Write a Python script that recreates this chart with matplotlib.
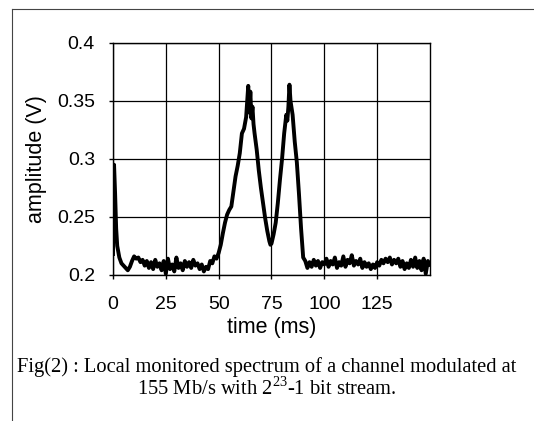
import matplotlib
matplotlib.use('Agg')
import matplotlib.pyplot as plt
from matplotlib.lines import Line2D

plt.rcParams['font.family'] = ['Liberation Sans', 'DejaVu Sans']
plt.rcParams['mathtext.fontset'] = 'custom'
plt.rcParams['mathtext.rm'] = 'Liberation Serif'

# trace (time in ms, amplitude in V)
time_ms = [0, 0.5, 1, 1.5, 2, 3, 4, 5, 6, 7, 8, 9, 10, 11, 12, 13, 14, 15, 16, 17, 18, 19,
           20, 21, 22, 23, 24, 25, 26, 27, 28, 29, 30, 31, 32, 33, 34, 35, 36, 37, 38, 39,
           40, 41, 42, 43, 44, 45, 46, 47, 48, 49, 50, 51, 52, 53, 54, 55, 56, 57, 58, 59,
           60, 61, 62, 63, 63.5, 64, 64.5, 65, 65.5, 66, 66.5, 67, 68, 69, 70, 71, 72, 73,
           74, 74.5, 75, 76, 77, 78, 79, 80, 81, 82, 82.5, 83, 83.5, 84, 85, 86, 87, 88,
           89, 90, 91, 92,
           93, 94, 95, 96, 97, 98, 99, 100, 101, 102, 103, 104, 105, 106, 107, 108, 109,
           110, 111, 112, 113, 114, 115, 116, 117, 118, 119, 120, 121, 122, 123, 124, 125,
           126, 127, 128, 129, 130, 131, 132, 133, 134, 135, 136, 137, 138, 139, 140, 141,
           142, 143, 144, 145, 146, 147, 148, 149, 150]
amplitude = [0.218, 0.295, 0.27, 0.24, 0.225, 0.215, 0.21, 0.208, 0.206, 0.204, 0.207, 0.212,
             0.216, 0.214, 0.215, 0.211, 0.213, 0.208, 0.212, 0.206, 0.211, 0.205,
             0.213, 0.207, 0.21, 0.204, 0.212, 0.201, 0.214, 0.205, 0.209, 0.203, 0.215,
             0.206, 0.21, 0.204, 0.212, 0.207, 0.211, 0.206, 0.213, 0.208,
             0.21, 0.205, 0.209, 0.203, 0.207, 0.205, 0.212, 0.21, 0.216, 0.214, 0.219,
             0.226, 0.236, 0.245, 0.252, 0.256, 0.259, 0.272, 0.285, 0.294,
             0.305, 0.322, 0.326, 0.336, 0.35, 0.363, 0.34, 0.358, 0.335, 0.345, 0.33,
             0.322, 0.308, 0.29, 0.275, 0.262, 0.249, 0.238,
             0.229, 0.226, 0.227, 0.235, 0.245, 0.262, 0.282, 0.3, 0.322, 0.338, 0.333,
             0.345, 0.364, 0.35, 0.338, 0.315, 0.297, 0.27,
             0.24, 0.215, 0.212, 0.206,
             0.211, 0.207, 0.213, 0.208, 0.212, 0.206, 0.211, 0.209, 0.214, 0.207, 0.212,
             0.209, 0.215, 0.206, 0.211, 0.208, 0.216,
             0.207, 0.213, 0.21, 0.217, 0.208, 0.212, 0.209, 0.214, 0.206, 0.211, 0.207,
             0.21, 0.205, 0.209, 0.206, 0.211,
             0.208, 0.213, 0.21, 0.214, 0.211, 0.215, 0.209, 0.213, 0.21, 0.214, 0.207,
             0.212, 0.205, 0.21, 0.206, 0.213,
             0.207, 0.215, 0.206, 0.212, 0.204, 0.214, 0.201, 0.212, 0.209]

x_ticks = [0, 25, 50, 75, 100, 125]
y_ticks = [0.2, 0.25, 0.3, 0.35, 0.4]
y_labels = ['0.2', '0.25', '0.3', '0.35', '0.4']

fig = plt.figure(figsize=(5.34, 4.21), dpi=100)
ax = fig.add_axes([0.2116, 0.347, 0.5936, 0.551])
ax.plot(time_ms, amplitude, color='black', lw=2.8, solid_joinstyle='round')
ax.set_xlim(0, 150)
ax.set_ylim(0.2, 0.4)
ax.set_xticks(x_ticks)
ax.set_yticks(y_ticks)
ax.set_yticklabels(y_labels)
ax.tick_params(labelsize=14, length=3, width=1, colors='black')
ax.tick_params(axis='x', pad=12)
ax.tick_params(axis='y', pad=10)
ax.grid(True, color='black', lw=0.9)
ax.set_axisbelow(True)
for s in ax.spines.values():
    s.set_linewidth(1)
ax.set_xlabel('time (ms)', fontsize=15.5, labelpad=3)
ax.set_ylabel('amplitude (V)', fontsize=15.5, labelpad=7)

# caption
fig.text(0.5, 0.128, 'Fig(2) : Local monitored spectrum of a channel modulated at',
         ha='center', va='center', fontsize=14.8, family='Liberation Serif')
fig.text(0.5, 0.078, '155 Mb/s with 2$^{23}$-1 bit stream.',
         ha='center', va='center', fontsize=14.8, family='Liberation Serif')

# frame around the figure
fig.add_artist(Line2D([0.0225, 0.0225], [0, 0.979], color='#444444', lw=0.8))
fig.add_artist(Line2D([0.0225, 1], [0.979, 0.979], color='#444444', lw=0.8))

fig.savefig('out.png', dpi=100)
